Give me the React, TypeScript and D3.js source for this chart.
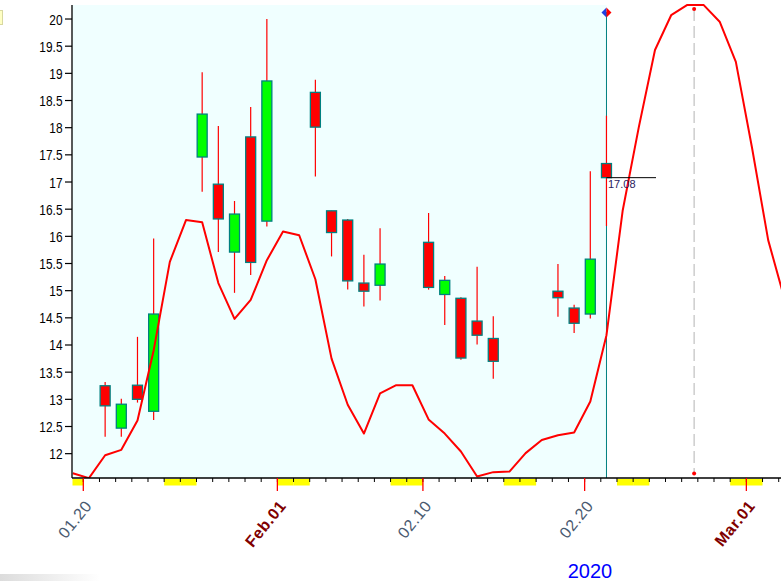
import React from 'react';
import * as d3 from 'd3';

// ---- data ----
const candleDates = [
  '2020-01-21', '2020-01-22', '2020-01-23', '2020-01-24',
  '2020-01-27', '2020-01-28', '2020-01-29', '2020-01-30', '2020-01-31',
  '2020-02-03', '2020-02-04', '2020-02-05', '2020-02-06', '2020-02-07',
  '2020-02-10', '2020-02-11', '2020-02-12', '2020-02-13', '2020-02-14',
  '2020-02-18', '2020-02-19', '2020-02-20', '2020-02-21',
];
const openValues = [13.25, 12.47, 13.26, 12.78, 17.46, 16.96, 15.71, 17.83, 16.28, 18.65, 16.47, 16.30, 15.14, 15.10, 15.89, 14.93, 14.86, 14.44, 14.12, 14.99, 14.68, 14.57, 17.34];
const highValues = [13.32, 13.01, 14.15, 15.96, 19.02, 18.03, 16.65, 18.38, 20.00, 18.88, 16.47, 16.32, 15.66, 16.15, 16.43, 15.27, 14.88, 15.44, 14.53, 15.49, 14.74, 17.20, 18.22];
const lowValues = [12.31, 12.31, 12.94, 12.62, 16.82, 15.71, 14.96, 15.29, 16.18, 17.10, 15.63, 15.02, 14.71, 14.82, 15.02, 14.37, 13.73, 14.01, 13.38, 14.52, 14.22, 14.49, 16.19];
const closeValues = [12.88, 12.91, 13.00, 14.57, 18.25, 16.32, 16.41, 15.52, 18.86, 18.01, 16.07, 15.18, 14.99, 15.49, 15.06, 15.19, 13.76, 14.18, 13.70, 14.87, 14.40, 15.58, 17.08];

// daily curve starting 2020-01-19
const lineStart = '2020-01-19';
const lineValues = [
  11.64, 11.55, 11.97, 12.07, 12.61, 13.90, 15.53, 16.30, 16.26, 15.14,
  14.48, 14.83, 15.56, 16.09, 16.02, 15.21, 13.75, 12.90, 12.37, 13.11,
  13.26, 13.26, 12.63, 12.37, 12.04, 11.58, 11.66, 11.67, 12.01, 12.25,
  12.34, 12.39, 12.96, 14.18, 16.47, 18.01, 19.43, 20.07, 20.26, 20.26,
  19.95, 19.21, 17.63, 15.93, 14.86,
];

const yTicks = [12, 12.5, 13, 13.5, 14, 14.5, 15, 15.5, 16, 16.5, 17, 17.5, 18, 18.5, 19, 19.5, 20];
const xTickDates = ['2020-01-20', '2020-02-01', '2020-02-10', '2020-02-20', '2020-03-01'];
const xTickTexts = ['01.20', 'Feb.01', '02.10', '02.20', 'Mar.01'];
const xTickIsMonth = [false, true, false, false, true];
const lastCloseLabel = '17.08';
const yearLabel = '2020';
const forecastPeak = new Date(2020, 1, 26, 18, 29);

// ---- layout ----
const W = 781, H = 581;
const LEFT = 72, RIGHT = 781, TOP = 5, BOTTOM = 478;
const DAY = 86400000;
const CANDLE_OFFSET = 0.35;

const parse = (s: string) => {
  const [y, m, d] = s.split('-').map(Number);
  return new Date(y, m - 1, d);
};
const addDays = (dt: Date, n: number) => new Date(dt.getTime() + n * DAY);

const origin = parse('2020-01-20');
const x = d3.scaleTime()
  .domain([addDays(origin, -0.699), addDays(origin, 43.142)])
  .range([LEFT, RIGHT]);
const y = d3.scaleLinear().domain([11.552, 20.258]).range([BOTTOM, TOP]);

const candles = candleDates.map((d, i) => ({
  cx: x(addDays(parse(d), CANDLE_OFFSET)),
  o: openValues[i], h: highValues[i], l: lowValues[i], c: closeValues[i],
}));
const lastX = candles[candles.length - 1].cx;

const linePts: [number, number][] = lineValues.map((v, i) => [
  x(addDays(parse(lineStart), i + CANDLE_OFFSET)), y(v),
]);
const linePath = d3.line()(linePts) || '';

const [d0, d1] = x.domain();
const days = d3.timeDay.range(d3.timeDay.ceil(d0), d1);
const weekendDays = d3.timeDay.range(d3.timeDay.floor(d0), d1).filter(d => d.getDay() === 0 || d.getDay() === 6);

export default function App() {
  const closeY = y(closeValues[closeValues.length - 1]);
  const peakX = x(forecastPeak);
  const dq = 5;
  return (
    <svg width={W} height={H} style={{ position: 'absolute', left: 0, top: 0, background: '#fff' }}
      fontFamily="'Liberation Sans', Arial, sans-serif">
      <defs>
        <clipPath id="plotClip">
          <rect x={LEFT} y={TOP - 1} width={RIGHT - LEFT} height={BOTTOM - TOP + 1} />
        </clipPath>
        <linearGradient id="shadow" x1="0" x2="1" y1="0" y2="0">
          <stop offset="0" stopColor="#d8d8d8" stopOpacity="0.9" />
          <stop offset="1" stopColor="#d8d8d8" stopOpacity="0" />
        </linearGradient>
      </defs>
      <rect x={0} y={0} width={W} height={H} fill="#fff" />
      {/* plot background */}
      <rect x={LEFT} y={TOP} width={lastX - LEFT} height={BOTTOM - TOP} fill="#f0ffff" />
      {/* small legend box top-left */}
      <rect x={-5} y={10.5} width={7.5} height={14} fill="#ffffc4" stroke="#d8d8a0" />
      {/* bottom-left shadow */}
      <rect x={0} y={574} width={100} height={7} fill="url(#shadow)" />

      {/* weekend bands */}
      {weekendDays.map((d, i) => {
        const a = Math.max(LEFT + 0.5, x(d));
        const b = Math.min(RIGHT, x(addDays(d, 1)));
        return b > a ? <rect key={i} x={a} y={479} width={b - a} height={6.5} fill="#ffff00" /> : null;
      })}

      {/* teal current line */}
      <line x1={lastX} x2={lastX} y1={12} y2={BOTTOM} stroke="#008080" strokeWidth={1} />

      {/* candles */}
      {candles.map((c, i) => (
        <g key={i}>
          <line x1={c.cx} x2={c.cx} y1={y(c.h)} y2={y(c.l)} stroke="#ff0000" strokeWidth={1.2} />
          <rect x={c.cx - 5} y={y(Math.max(c.o, c.c))} width={10}
            height={Math.max(1, Math.abs(y(c.o) - y(c.c)))}
            fill={c.c >= c.o ? '#00ff00' : '#ff0000'} stroke="#008080" strokeWidth={1.3} />
        </g>
      ))}

      {/* forecast dashed line */}
      <line x1={peakX} x2={peakX} y1={9} y2={473.5} stroke="#c0c0c0" strokeWidth={1.2} strokeDasharray="12,5" />
      <circle cx={peakX} cy={9} r={2} fill="#ff0000" />
      <circle cx={peakX} cy={473.5} r={2} fill="#ff0000" />

      {/* red curve */}
      <g clipPath="url(#plotClip)">
        <path d={linePath} fill="none" stroke="#ff0000" strokeWidth={2} strokeLinejoin="round" />
      </g>

      {/* last close marker */}
      <line x1={lastX} x2={656} y1={closeY} y2={closeY} stroke="#000" strokeWidth={1} />
      <text x={lastX + 1.5} y={closeY + 10.5} fontSize={11} fill="#2a1a5e">{lastCloseLabel}</text>

      {/* diamond */}
      <path d={`M${lastX},${12.5 - dq} L${lastX - dq},12.5 L${lastX},${12.5 + dq} Z`} fill="#2040e0" />
      <path d={`M${lastX},${12.5 - dq} L${lastX + dq},12.5 L${lastX},${12.5 + dq} Z`} fill="#ff0000" />

      {/* y axis */}
      <line x1={LEFT} x2={LEFT} y1={TOP} y2={BOTTOM} stroke="#000" strokeWidth={1.3} />
      {yTicks.map(t => (
        <g key={t}>
          <line x1={65} x2={LEFT} y1={y(t)} y2={y(t)} stroke="#000" strokeWidth={1.2} />
          <text transform={`translate(62.5,${y(t) + 5.5}) scale(0.85,1)`} textAnchor="end" fontSize={14} fill="#000">
            {String(t)}
          </text>
        </g>
      ))}

      {/* x axis */}
      <line x1={LEFT} x2={RIGHT} y1={BOTTOM} y2={BOTTOM} stroke="#000" strokeWidth={1.3} />
      {days.map((d, i) => (
        <line key={i} x1={x(d)} x2={x(d)} y1={BOTTOM} y2={482} stroke="#000" strokeWidth={1} />
      ))}
      {xTickDates.map((ds, i) => {
        const px = x(parse(ds));
        return (
          <g key={ds}>
            <line x1={px} x2={px} y1={BOTTOM} y2={491} stroke="#ff0000" strokeWidth={1.3} />
            <text transform={`translate(${px + 9.5},506) rotate(-51)`} textAnchor="end"
              fontSize={16} letterSpacing={0.6}
              fontWeight={xTickIsMonth[i] ? 'bold' : 'normal'}
              fill={xTickIsMonth[i] ? '#800000' : '#4a5a70'}>
              {xTickTexts[i]}
            </text>
          </g>
        );
      })}

      {/* year */}
      <text x={590} y={578} textAnchor="middle" fontSize={20} fill="#0000ff">{yearLabel}</text>
    </svg>
  );
}
